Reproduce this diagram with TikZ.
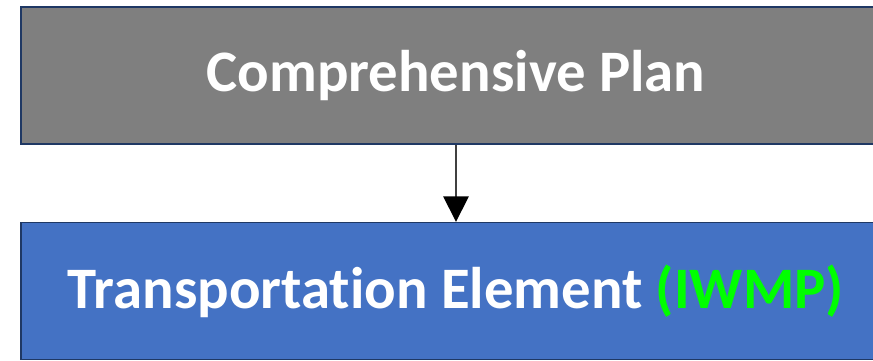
\documentclass[tikz,border=0pt]{standalone}
\usepackage{fontspec}
\setmainfont{Carlito}[Ligatures={NoCommon}]
\usepackage{xcolor}
\usepackage{tikz}
\usetikzlibrary{arrows.meta}
\usetikzlibrary{positioning}
\definecolor{planGray}{RGB}{127,127,127}
\definecolor{elemBlue}{RGB}{68,114,196}
\definecolor{edgeNavy}{RGB}{31,56,100}
\definecolor{iwmpGreen}{RGB}{0,255,0}
\tikzset{
  planbox/.style={draw=edgeNavy, line width=1.1pt, minimum width=21.75cm, minimum height=3.425cm,
                  text=white, font=\fontsize{41.8}{48}\selectfont\bfseries, inner sep=0pt},
}
\begin{document}
\begin{tikzpicture}[x=0.025cm,y=0.025cm]
      \useasboundingbox (0,0) rectangle (873,361);
      \clip (0,0) rectangle (873,361);
      \node[planbox, fill=planGray] (compplan) at (456,285.5) {Comprehensive Plan};
      \node[planbox, fill=elemBlue, below=1.925cm of compplan] (transelem) {Transportation Element \textcolor{iwmpGreen}{(IWMP)}};
      \draw[line width=1.1pt, color=black!75, -{Triangle[width=18pt,length=18pt,color=black]}] (compplan) -- (transelem);
\end{tikzpicture}
\end{document}
